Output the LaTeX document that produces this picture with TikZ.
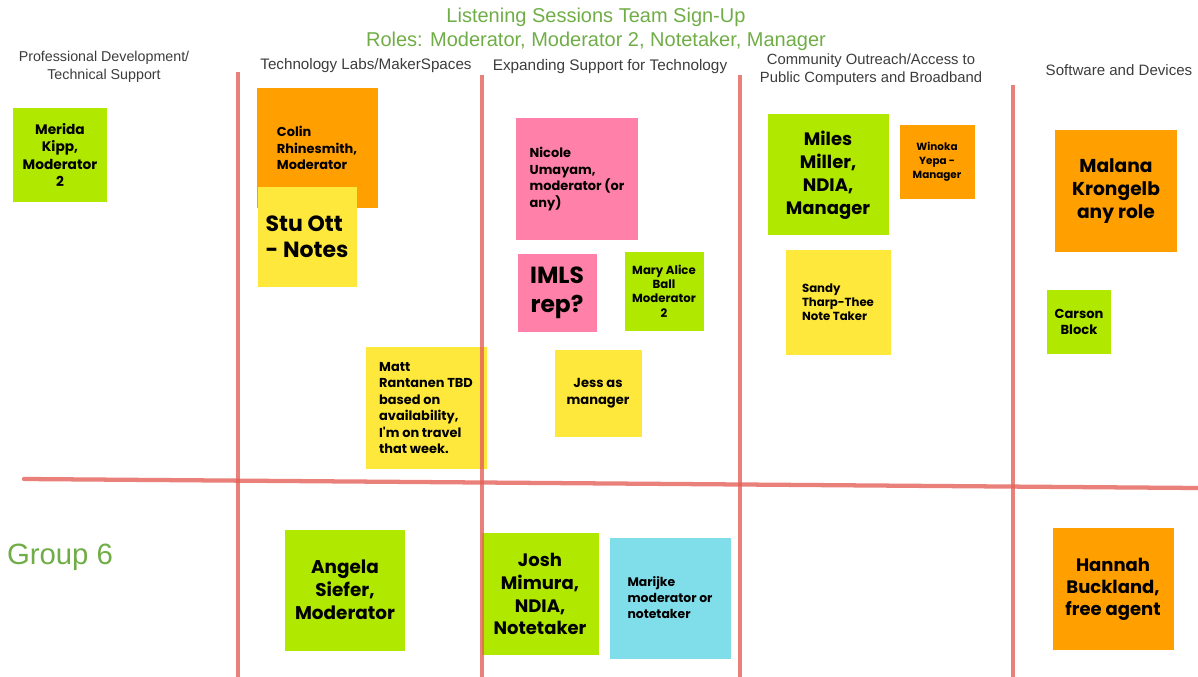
\documentclass[tikz,border=0pt]{standalone}
\usepackage{fontspec}
\setmainfont{Liberation Sans}
\newfontfamily\notefont{Poppins}
\usepackage{tikz}
\usetikzlibrary{positioning}

\definecolor{notegreen}{RGB}{176,232,0}
\definecolor{noteorange}{RGB}{255,160,0}
\definecolor{noteyellow}{RGB}{255,232,60}
\definecolor{notepink}{RGB}{255,128,168}
\definecolor{notecyan}{RGB}{128,222,234}
\definecolor{linered}{RGB}{228,96,88}
\definecolor{titlegreen}{RGB}{112,173,71}
\definecolor{headgray}{RGB}{60,60,60}

\tikzset{
  sticky/.style n args={3}{rectangle, inner sep=0pt, fill=#1,
    minimum width=#2*0.75pt, minimum height=#3*0.75pt, text=black},
  hdr/.style={align=center, text=headgray, font=\fontsize{#1}{13.5}\selectfont},
  hdr/.default=11,
  divider/.style={draw=linered, line width=3.2pt, opacity=0.8},
}

\begin{document}
\begin{tikzpicture}[x=0.75pt, y=-0.75pt]
        \useasboundingbox (0,0) rectangle (1198,677);

        % title and column heads
        \node[titlegreen, align=center, font=\fontsize{15}{18}\selectfont] (title) at (596,29)
            {Listening Sessions Team Sign-Up\\Roles: Moderator, Moderator 2, Notetaker, Manager};
        \node[hdr=10.7] (profdev) at (104,67) {Professional Development/\\Technical Support};
        \node[hdr=11.4] (techlabs) at (366,66) {Technology Labs/MakerSpaces};
        \node[hdr=11.5] (expanding) at (610,67) {Expanding Support for Technology};
        \node[hdr=11.1] (outreach) at (871,70) {Community Outreach/Access to\\Public Computers and Broadband};
        \node[hdr=11.3] (software) at (1119,70) {Software and Devices};
        \node[titlegreen, font=\fontsize{22}{26}\selectfont] (group) at (60,557) {Group 6};

        % sticky notes
        \node[sticky={notegreen}{94}{94}, align=center, font=\notefont\bfseries\fontsize{10.3}{12.8}\selectfont] (merida) at (60,155)
            {Merida\\Kipp,\\Moderator\\2};
        \node[sticky={noteorange}{121}{120}, align=left, font=\notefont\bfseries\fontsize{9.7}{12.3}\selectfont] (colin) at (317,148)
            {Colin\\Rhinesmith,\\Moderator};
        \node[sticky={noteyellow}{99}{99}, align=left, font=\notefont\bfseries\fontsize{16.5}{19.5}\selectfont] (stu) at (307,237)
            {Stu Ott\\- Notes};
        \node[sticky={notepink}{122}{122}, align=left, font=\notefont\bfseries\fontsize{9.7}{12.5}\selectfont] (nicole) at (577,179)
            {Nicole\\Umayam,\\moderator (or\\any)};
        \node[sticky={notepink}{79}{78}, align=center, font=\notefont\bfseries\fontsize{17.5}{22}\selectfont] (imls) at (557,293)
            {IMLS\\rep?};
        \node[sticky={notegreen}{79}{79}, align=center, font=\notefont\bfseries\fontsize{8.8}{10.8}\selectfont] (maryalice) at (664,291)
            {Mary Alice\\Ball\\Moderator\\2};
        \node[sticky={noteyellow}{121}{122}, align=left, font=\notefont\bfseries\fontsize{9.7}{12.3}\selectfont] (matt) at (426,408)
            {Matt\\Rantanen TBD\\based on\\availability,\\I'm on travel\\that week.};
        \node[sticky={noteyellow}{87}{87}, align=center, font=\notefont\bfseries\fontsize{9.8}{12.5}\selectfont] (jess) at (598,393)
            {Jess as\\manager};
        \node[sticky={notegreen}{121}{121}, align=center, font=\notefont\bfseries\fontsize{13.5}{17.2}\selectfont] (miles) at (828,175)
            {Miles\\Miller,\\NDIA,\\Manager};
        \node[sticky={noteorange}{75}{74}, align=center, font=\notefont\bfseries\fontsize{7.8}{10.5}\selectfont] (winoka) at (937,162)
            {Winoka\\Yepa -\\Manager};
        \node[sticky={noteyellow}{105}{105}, align=left, font=\notefont\bfseries\fontsize{8.8}{10.5}\selectfont] (sandy) at (838,302)
            {Sandy\\Tharp-Thee\\Note Taker};
        \node[sticky={noteorange}{122}{122}, align=center, font=\notefont\bfseries\fontsize{14}{17.2}\selectfont] (malana) at (1116,191)
            {Malana\\Krongelb\\any role};
        \node[sticky={notegreen}{64}{64}, align=center, font=\notefont\bfseries\fontsize{9.8}{12.3}\selectfont] (carson) at (1079,322)
            {Carson\\Block};
        \node[sticky={notegreen}{120}{121}, align=center, font=\notefont\bfseries\fontsize{13.8}{17.2}\selectfont] (angela) at (345,590)
            {Angela\\Siefer,\\Moderator};
        \node[sticky={notegreen}{117}{122}, align=center, font=\notefont\bfseries\fontsize{13.5}{17.2}\selectfont] (josh) at (540,594)
            {Josh\\Mimura,\\NDIA,\\Notetaker};
        \node[sticky={notecyan}{121}{121}, align=left, font=\notefont\bfseries\fontsize{9.3}{12}\selectfont] (marijke) at (670,598)
            {Marijke\\moderator or\\notetaker};
        \node[sticky={noteorange}{121}{122}, align=center, font=\notefont\bfseries\fontsize{13.5}{16.5}\selectfont] (hannah) at (1113,589)
            {Hannah\\Buckland,\\free agent};

        % dividing lines
        \draw[divider] (238,72) -- (238,677);
        \draw[divider] (482,75) -- (482,677);
        \draw[divider] (740,75) -- (740,677);
        \draw[divider] (1013,85) -- (1013,677);
        \draw[divider, line cap=round] (24,479) -- (1198,488);
\end{tikzpicture}
\end{document}
